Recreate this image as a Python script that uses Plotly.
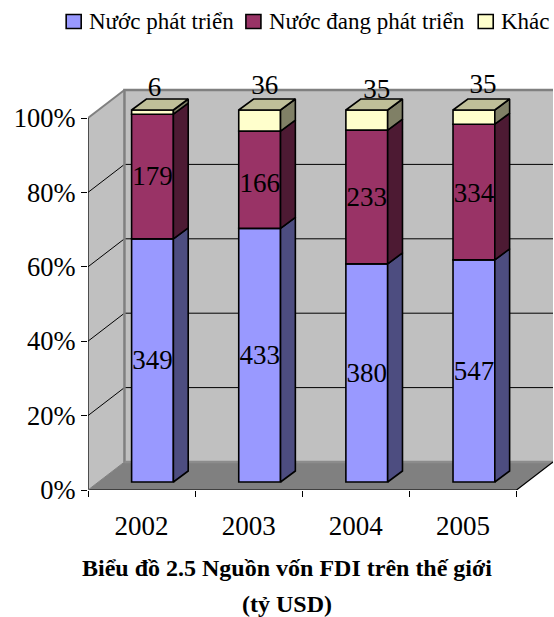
import plotly.graph_objects as go

years = ["2002", "2003", "2004", "2005"]
developed = [349, 433, 380, 547]
developing = [179, 166, 233, 334]
other = [6, 36, 35, 35]
series_names = ["Nước phát triển", "Nước đang phát triển", "Khác"]
pct_ticks = [0, 20, 40, 60, 80, 100]

# ---- projection / layout constants (pixels of the oblique chart box)
W, H = 554, 617
PX_L, PX_R, PX_T, PX_B = 88.3, 552.7, 60.0, 490.0
UX = 107.0   # px per category
UY = 3.72    # px per percent
DEPTH_X, DEPTH_Y = 36.4 / UX, 28.0 / UY          # full box depth
BAR_OX, BAR_OY = 0.102, 8.0 / UY                 # bar offset into the box
BAR_DX, BAR_DY = 14.8 / UX, 11.0 / UY            # bar depth
BAR_W = 0.39
FONT = "Liberation Serif"
N = len(years)

colors = ["#9999FF", "#993366", "#FFFFCC"]
side_colors = ["#4D4D80", "#4D1A33", "#808066"]
top_colors = ["#4D4D80", "#4D1A33", "#BFBF99"]

totals = [a + b + c for a, b, c in zip(developed, developing, other)]
shares = [[v / t * 100 for v, t in zip(s, totals)] for s in (developed, developing, other)]
bases = [[0.0] * N]
for s in shares[:-1]:
    bases.append([b + v for b, v in zip(bases[-1], s)])

fig = go.Figure()

def paper_x(px):
    return (px - PX_L) / (PX_R - PX_L)

def paper_y(py):
    return (PX_B - py) / (PX_B - PX_T)

# ---- walls
def poly(pts):
    return "M " + " L ".join(f"{x},{y}" for x, y in pts) + " Z"

shapes = []
top_y = 100 + DEPTH_Y
right_x = N + DEPTH_X
y_max = (PX_B - PX_T) / UY
shapes.append(dict(type="path", path=poly([(DEPTH_X, DEPTH_Y), (right_x, DEPTH_Y), (right_x, top_y), (DEPTH_X, top_y)]),
                   fillcolor="#C0C0C0", line=dict(width=0), layer="below"))
shapes.append(dict(type="path", path=poly([(0, 0), (DEPTH_X, DEPTH_Y), (DEPTH_X, top_y), (0, 100)]),
                   fillcolor="#C0C0C0", line=dict(width=0), layer="below"))
shapes.append(dict(type="path", path=poly([(0, 0), (N, 0), (right_x, DEPTH_Y), (DEPTH_X, DEPTH_Y)]),
                   fillcolor="#808080", line=dict(width=0), layer="below"))
for t in pct_ticks[1:-1]:
    shapes.append(dict(type="path", path=f"M 0,{t} L {DEPTH_X},{t + DEPTH_Y} L {right_x},{t + DEPTH_Y}",
                       line=dict(color="#000000", width=1), layer="below"))
# grey wall edges
shapes.append(dict(type="path", path=f"M {DEPTH_X},{DEPTH_Y} L {DEPTH_X},{top_y} L {right_x},{top_y}",
                   line=dict(color="#808080", width=2.5), layer="below"))
shapes.append(dict(type="path", path=f"M {DEPTH_X},{DEPTH_Y} L {right_x},{DEPTH_Y}",
                   line=dict(color="#8C8C8C", width=2.5), layer="below"))
shapes.append(dict(type="path", path=f"M 0,100 L {DEPTH_X},{top_y}",
                   line=dict(color="#808080", width=2), layer="below"))
# axis lines
shapes.append(dict(type="path", path=f"M 0,100 L 0,0 L {N},0 L {right_x},{DEPTH_Y}",
                   line=dict(color="#000000", width=1.2), layer="below"))
shapes.append(dict(type="path", path=f"M 0,0 L {DEPTH_X},{DEPTH_Y}",
                   line=dict(color="#808080", width=1), layer="below"))

# ---- front faces of bars
xs = [i + 0.5 + BAR_OX for i in range(N)]
for k, name in enumerate(series_names):
    fig.add_trace(go.Bar(
        x=xs, y=shares[k], base=[b + BAR_OY for b in bases[k]],
        width=BAR_W, name=name, showlegend=False,
        marker=dict(color=colors[k], line=dict(color="#000000", width=1.6)),
        hoverinfo="skip",
    ))

# ---- side and top faces, computed from the same values
for k in range(3):
    for i in range(N):
        x1 = xs[i] + BAR_W / 2
        y0 = bases[k][i] + BAR_OY
        y1 = y0 + shares[k][i]
        fig.add_trace(go.Scatter(
            x=[x1, x1 + BAR_DX, x1 + BAR_DX, x1, x1],
            y=[y0, y0 + BAR_DY, y1 + BAR_DY, y1, y0],
            mode="lines", fill="toself", fillcolor=side_colors[k],
            line=dict(color="#000000", width=1.6), showlegend=False, hoverinfo="skip",
        ))
for i in range(N):
    x0, x1 = xs[i] - BAR_W / 2, xs[i] + BAR_W / 2
    y1 = sum(shares[k][i] for k in range(3)) + BAR_OY
    fig.add_trace(go.Scatter(
        x=[x0, x1, x1 + BAR_DX, x0 + BAR_DX, x0],
        y=[y1, y1, y1 + BAR_DY, y1 + BAR_DY, y1],
        mode="lines", fill="toself", fillcolor=top_colors[2],
        line=dict(color="#000000", width=1.6), showlegend=False, hoverinfo="skip",
    ))

# ---- data labels (pixel nudges per series, per category)
nudge_x = [[0, 0, 0, 0], [0, 0, 0, 0], [2, 5, 10, 9]]
nudge_up = [[-2, -2, -2, -2], [-2, -6, -2, -3], [23, 33.5, 29, 31]]
label_font = dict(family=FONT, size=27, color="#000000")
for k, s in enumerate((developed, developing, other)):
    lx = [x + nudge_x[k][i] / UX for i, x in enumerate(xs)]
    ly = [b + v / 2 + BAR_OY + nudge_up[k][i] / UY
          for i, (b, v) in enumerate(zip(bases[k], shares[k]))]
    fig.add_trace(go.Scatter(
        x=lx, y=ly, text=[str(v) for v in s], mode="text",
        textposition="middle center", textfont=label_font,
        showlegend=False, hoverinfo="skip", cliponaxis=False,
    ))

# ---- legend row
LEG_Y = 21.5
swatch_left = [66.5, 246, 478]
text_left = [88, 268, 500]
annotations = [
    dict(text="<b>Biểu đồ 2.5 Nguồn vốn FDI trên thế giới</b>", xref="paper", yref="paper",
         x=paper_x(286.6), y=paper_y(568), showarrow=False,
         font=dict(family=FONT, size=24), xanchor="center", yanchor="middle"),
    dict(text="<b>(tỷ USD)</b>", xref="paper", yref="paper",
         x=paper_x(286.6), y=paper_y(604), showarrow=False,
         font=dict(family=FONT, size=24), xanchor="center", yanchor="middle"),
]
for k, name in enumerate(series_names):
    shapes.append(dict(type="rect", xref="paper", yref="paper",
                       x0=paper_x(swatch_left[k]), x1=paper_x(swatch_left[k] + 15),
                       y0=paper_y(LEG_Y + 7), y1=paper_y(LEG_Y - 7),
                       fillcolor=colors[k], line=dict(color="#000000", width=1.6)))
    annotations.append(dict(text=name, xref="paper", yref="paper",
                            x=paper_x(text_left[k]), y=paper_y(LEG_Y), showarrow=False,
                            font=dict(family=FONT, size=23), xanchor="left", yanchor="middle", xshift=-1))

fig.update_layout(
    width=W, height=H, autosize=False,
    margin=dict(l=PX_L, r=W - PX_R, t=PX_T, b=H - PX_B, pad=0),
    paper_bgcolor="#FFFFFF", plot_bgcolor="rgba(0,0,0,0)",
    barmode="overlay", shapes=shapes, showlegend=False,
    font=dict(family=FONT, color="#000000"),
    xaxis=dict(range=[0, right_x], tickvals=[i + 0.5 for i in range(N)], ticktext=years,
               ticks="", showgrid=False, zeroline=False, showline=False,
               tickfont=dict(family=FONT, size=27), ticklabelstandoff=17,
               minor=dict(tick0=0, dtick=1, ticks="outside", ticklen=6, tickcolor="#000000", tickwidth=1)),
    yaxis=dict(range=[0, y_max], tickvals=pct_ticks, ticktext=[f"{t}%" for t in pct_ticks],
               ticks="outside", ticklen=6, tickcolor="#000000", tickwidth=1,
               showgrid=False, zeroline=False, showline=False,
               tickfont=dict(family=FONT, size=26.5)),
    annotations=annotations,
)

fig.write_html("out.html", post_script="document.body.style.margin='0';", config={"displayModeBar": False})
